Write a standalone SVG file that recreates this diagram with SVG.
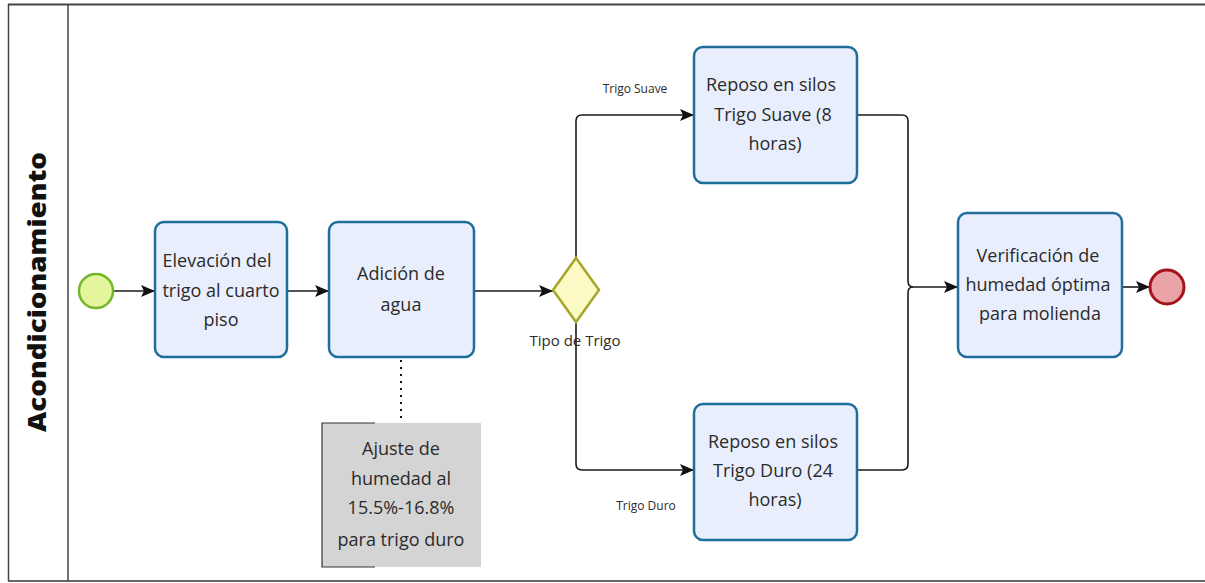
<svg xmlns="http://www.w3.org/2000/svg" width="1205" height="583" viewBox="0 0 1205 583">
  <style>
    .task rect { fill: #e9eefc; stroke: #1f6e9c; stroke-width: 2.5; }
    .lbl { font-family: "Open Sans", "Noto Sans", sans-serif; font-size: 18px; fill: #2b2b2b; text-anchor: middle; }
    .small { font-family: "Open Sans", "Noto Sans", sans-serif; font-size: 12px; fill: #2b2b2b; text-anchor: middle; }
    .flow { fill: none; stroke: #1a1a1a; stroke-width: 1.6; }
  </style>
  <defs>
    <marker id="arrow" viewBox="0 0 14 12" refX="14" refY="6" markerWidth="14" markerHeight="12" markerUnits="userSpaceOnUse" orient="auto">
      <path d="M0 0 L14 6 L0 12 L3 6 Z" fill="#111"/>
    </marker>
  </defs>

  <rect width="1205" height="583" fill="#ffffff"/>

  <!-- pool / lane frame -->
  <g id="lane">
    <line x1="8" y1="4.5" x2="1205" y2="4.5" stroke="#444" stroke-width="2"/>
    <line x1="8" y1="581" x2="1205" y2="581" stroke="#666" stroke-width="2"/>
    <line x1="8.5" y1="4" x2="8.5" y2="581" stroke="#444" stroke-width="1.5"/>
    <line x1="68" y1="4" x2="68" y2="581" stroke="#444" stroke-width="1.5"/>
    <text x="0" y="0" transform="translate(46 292) rotate(-90)" font-family="'Open Sans', 'DejaVu Sans', sans-serif" font-weight="800" font-size="25" fill="#111" text-anchor="middle" textLength="280" lengthAdjust="spacingAndGlyphs">Acondicionamiento</text>
  </g>

  <!-- sequence flows -->
  <g id="connectors">
    <path class="flow" d="M113 291 H155" marker-end="url(#arrow)"/>
    <path class="flow" d="M287 291 H329" marker-end="url(#arrow)"/>
    <path class="flow" d="M474 291 H553" marker-end="url(#arrow)"/>
    <path class="flow" d="M576 258 V121 Q576 115 582 115 H694" marker-end="url(#arrow)"/>
    <path class="flow" d="M576 322 V464 Q576 470 582 470 H694" marker-end="url(#arrow)"/>
    <path class="flow" d="M857 115 H902 Q908 115 908 121 V281 Q908 287 913 287"/>
    <path class="flow" d="M857 470 H902 Q908 470 908 464 V293 Q908 287 913 287"/>
    <path class="flow" d="M913 287 H958" marker-end="url(#arrow)"/>
    <path class="flow" d="M1122 287 H1150" marker-end="url(#arrow)"/>
    <path d="M401 360 V420" fill="none" stroke="#111" stroke-width="2" stroke-dasharray="2 5"/>
    <text class="small" x="635" y="93">Trigo Suave</text>
    <text class="small" x="646" y="510">Trigo Duro</text>
  </g>

  <g id="start">
    <circle cx="96" cy="291" r="17" fill="#e4f69c" stroke="#74b62a" stroke-width="2.5"/>
  </g>

  <g id="task-elevacion" class="task">
    <rect x="155" y="222" width="132" height="135" rx="9"/>
    <text class="lbl" x="217" y="267">Elevación del</text>
    <text class="lbl" x="221" y="297">trigo al cuarto</text>
    <text class="lbl" x="221" y="326">piso</text>
  </g>

  <g id="task-adicion" class="task">
    <rect x="329" y="222" width="145" height="135" rx="9"/>
    <text class="lbl" x="401" y="280">Adición de</text>
    <text class="lbl" x="401" y="311">agua</text>
  </g>

  <g id="note-ajuste">
    <rect x="322" y="423" width="159" height="144" fill="#d4d4d4"/>
    <path d="M375 423 H322 V567 H375" fill="none" stroke="#333" stroke-width="1.2"/>
    <text class="lbl" x="401" y="455">Ajuste de</text>
    <text class="lbl" x="401" y="485">humedad al</text>
    <text class="lbl" x="401" y="514">15.5%-16.8%</text>
    <text class="lbl" x="401" y="546">para trigo duro</text>
  </g>

  <g id="gateway-tipo">
    <polygon points="576,258 599,290 576,322 553,290" fill="#fbfac4" stroke="#a8a42c" stroke-width="2.5"/>
    <text x="575" y="346" font-family="'Open Sans', 'Noto Sans', sans-serif" font-size="15" fill="#2b2b2b" text-anchor="middle">Tipo de Trigo</text>
  </g>

  <g id="task-suave" class="task">
    <rect x="694" y="47" width="163" height="136" rx="9"/>
    <text class="lbl" x="771" y="91">Reposo en silos</text>
    <text class="lbl" x="773" y="121">Trigo Suave (8</text>
    <text class="lbl" x="775" y="150">horas)</text>
  </g>

  <g id="task-duro" class="task">
    <rect x="694" y="404" width="163" height="136" rx="9"/>
    <text class="lbl" x="773" y="448">Reposo en silos</text>
    <text class="lbl" x="773" y="477">Trigo Duro (24</text>
    <text class="lbl" x="775" y="506">horas)</text>
  </g>

  <g id="task-verificacion" class="task">
    <rect x="958" y="213" width="164" height="144" rx="9"/>
    <text class="lbl" x="1038" y="262">Verificación de</text>
    <text class="lbl" x="1038" y="291">humedad óptima</text>
    <text class="lbl" x="1040" y="320">para molienda</text>
  </g>

  <g id="end">
    <circle cx="1167" cy="287" r="17" fill="#eaa3a6" stroke="#a3141b" stroke-width="3"/>
  </g>
</svg>
